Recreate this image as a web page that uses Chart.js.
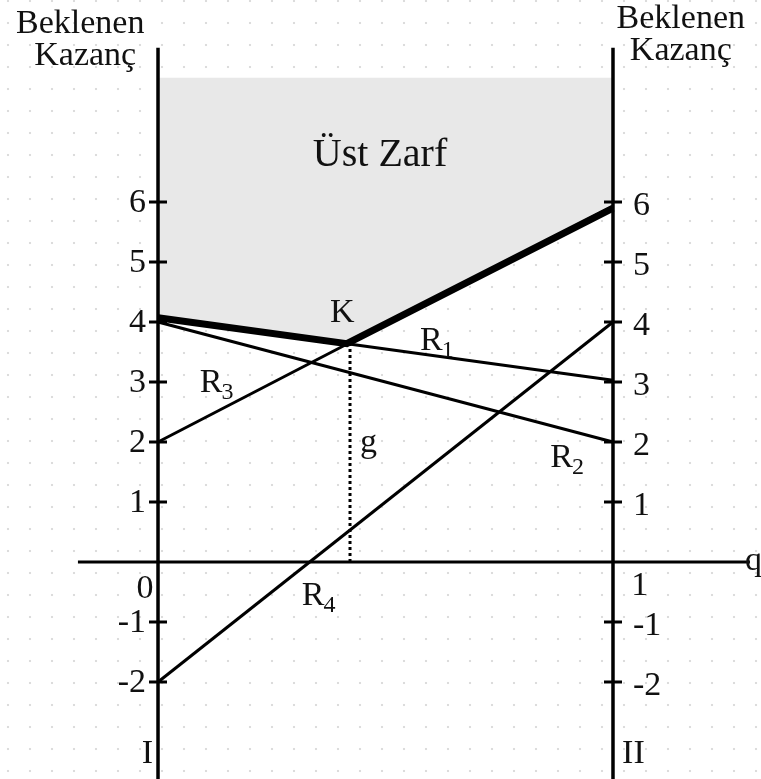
<!DOCTYPE html>
<html>
<head>
<meta charset="utf-8">
<script src="https://cdn.jsdelivr.net/npm/chart.js@4"></script>
<style>
  html, body { margin: 0; padding: 0; }
  body {
    width: 761px; height: 779px; overflow: hidden;
    background-color: #fff;
    background-image: radial-gradient(circle, #dcdcdc 1px, rgba(255,255,255,0) 1.6px);
    background-size: 22px 22px;
    background-position: -3px -10px;
  }
  canvas { display: block; }
</style>
</head>
<body>
<canvas id="chart" width="761" height="779"></canvas>
<script>
// Expected payoff lines for strategies R1..R4 against mix q (0 = I, 1 = II).
const qEnds = [0, 1];
const r1 = [4.07, 3.03];
const r2 = [4, 2];
const r3 = [2, 5.93];
const r4 = [-2, 4];

// Upper envelope (thick) with the kink K
const envelopeQ = [0, 0.415, 1];
const envelopeY = [4.07, 3.64, 5.9];
const envelopeTop = 8.07;
const kQ = 0.422;
const kY = 3.65;

// Axis ticks on the two vertical axes
const tickValues = [6, 5, 4, 3, 2, 1, -1, -2];
const tickLabels = ["6", "5", "4", "3", "2", "1", "-1", "-2"];

// visible extent of the axis lines
const hAxisQ = [-0.176, 1.301];
const vAxisY = [-3.7, 8.57];

const pts = (xs, ys) => xs.map((x, i) => ({ x, y: ys[i] }));
const FONT = '"Liberation Serif", "Times New Roman", serif';

// ---- text labels, all in data coordinates ----
// [text, subscript, q, y, align, size]
const notes = [
  ["Üst Zarf", "", 0.488, 6.6, "center", 40],
  ["K", "", 0.378, 4.0, "left", 34],
  ["R", "1", 0.576, 3.53, "left", 34],
  ["R", "3", 0.092, 2.83, "left", 34],
  ["R", "2", 0.862, 1.58, "left", 34],
  ["R", "4", 0.316, -0.72, "left", 34],
  ["g", "", 0.444, 1.83, "left", 34],
  ["q", "", 1.29, -0.14, "left", 34],
  ["0", "", -0.01, -0.6, "right", 34],
  ["1", "", 1.04, -0.55, "left", 34],
  ["I", "", -0.011, -3.35, "right", 34],
  ["II", "", 1.02, -3.35, "left", 34],
  ["Beklenen", "", -0.171, 8.82, "center", 34],
  ["Kazanç", "", -0.16, 8.28, "center", 34],
  ["Beklenen", "", 1.149, 8.9, "center", 34],
  ["Kazanç", "", 1.149, 8.37, "center", 34],
];

const textPlugin = {
  id: "textLabels",
  afterDatasetsDraw(chart) {
    const { ctx, scales: { x, y } } = chart;
    ctx.save();
    ctx.fillStyle = "#111";
    ctx.textBaseline = "alphabetic";
    notes.forEach(([t, sub, q, v, align, size]) => {
      const px = x.getPixelForValue(q);
      const py = y.getPixelForValue(v);
      ctx.font = `${size}px ${FONT}`;
      ctx.textAlign = align;
      ctx.fillText(t, px, py);
      if (sub) {
        const w = ctx.measureText(t).width;
        ctx.font = `24px ${FONT}`;
        ctx.textAlign = "left";
        ctx.fillText(sub, px + w - 1, py + 7);
      }
    });
    // tick labels on both vertical axes
    ctx.font = `34px ${FONT}`;
    ctx.textBaseline = "middle";
    tickValues.forEach((v, i) => {
      ctx.textAlign = "right";
      ctx.fillText(tickLabels[i], x.getPixelForValue(0) - 12, y.getPixelForValue(v) + 1);
      ctx.textAlign = "left";
      ctx.fillText(tickLabels[i], x.getPixelForValue(1) + 20, y.getPixelForValue(v) + 4);
    });
    ctx.restore();
  },
};

const line = (data, extra) => Object.assign({
  data, showLine: true, borderColor: "#000", borderWidth: 3,
  pointRadius: 0, fill: false, order: 1,
}, extra);

new Chart(document.getElementById("chart"), {
  type: "scatter",
  data: {
    datasets: [
      // grey upper region
      line(pts(envelopeQ, envelopeY), {
        borderWidth: 0, backgroundColor: "#e8e8e8",
        fill: { value: envelopeTop }, order: 5,
      }),
      line(pts(qEnds, r1)),
      line(pts(qEnds, r2)),
      line(pts(qEnds, r3)),
      line(pts(qEnds, r4)),
      line(pts(envelopeQ, envelopeY), { borderWidth: 7, borderJoinStyle: "miter", order: 0 }),
      line(pts([kQ, kQ], [kY, 0]), { borderDash: [3, 3], borderWidth: 3 }),
      // axes
      line(pts(hAxisQ, [0, 0]), { borderWidth: 3 }),
      line(pts([0, 0], vAxisY), { borderWidth: 3.5 }),
      line(pts([1, 1], vAxisY), { borderWidth: 3.5 }),
      // tick marks
      {
        data: tickValues.map(v => ({ x: 0, y: v })).concat(tickValues.map(v => ({ x: 1, y: v }))),
        pointStyle: "line", pointRadius: 9, pointBorderWidth: 3,
        pointBorderColor: "#000", showLine: false, order: 0,
      },
    ],
  },
  options: {
    responsive: false,
    animation: false,
    layout: { padding: 0, autoPadding: false },
    scales: {
      x: { type: "linear", min: -0.3473, max: 1.3253, display: false },
      y: { type: "linear", min: -3.617, max: 9.367, display: false },
    },
    plugins: { legend: { display: false }, tooltip: { enabled: false } },
  },
  plugins: [textPlugin],
});
</script>
</body>
</html>
